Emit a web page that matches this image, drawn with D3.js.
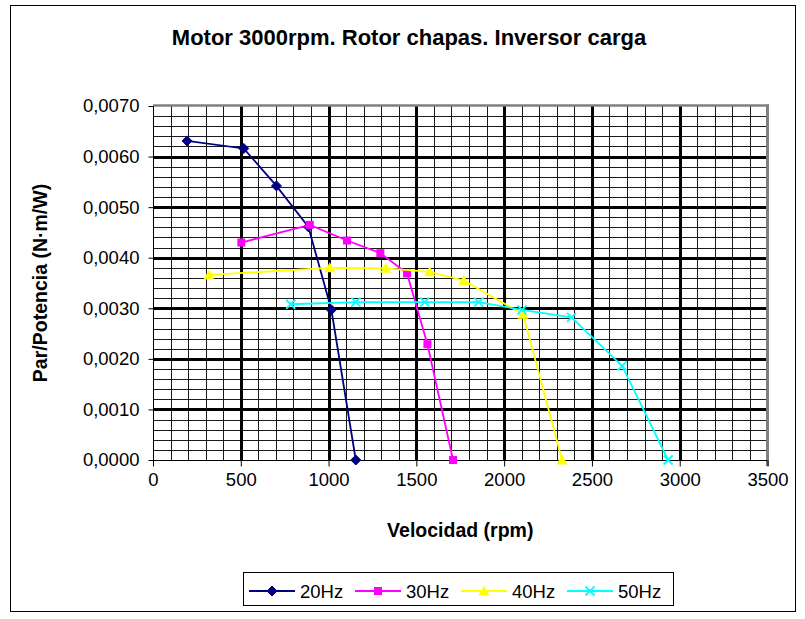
<!DOCTYPE html>
<html>
<head>
<meta charset="utf-8">
<script src="https://cdn.jsdelivr.net/npm/d3@7"></script>
<style>
  html, body { margin: 0; padding: 0; background: #fff; }
  svg { display: block; }
  text { font-family: "Liberation Sans", Arial, sans-serif; fill: #000; }
</style>
</head>
<body>
<svg id="chart" width="805" height="619"></svg>
<script>
// Velocidad (rpm) and Par/Potencia (N·m/W) per supply frequency
const vel20 = [194, 517, 703, 885, 1016, 1155];
const par20 = [0.00631, 0.00616, 0.00542, 0.00461, 0.00297, 0.0];

const vel30 = [503, 893, 1105, 1295, 1447, 1563, 1709];
const par30 = [0.00430, 0.00465, 0.00434, 0.00409, 0.00369, 0.00229, 0.0];

const vel40 = [319, 1007, 1326, 1576, 1770, 2108, 2330];
const par40 = [0.00366, 0.00380, 0.00379, 0.00372, 0.00355, 0.00288, 0.0];

const vel50 = [784, 1155, 1548, 1855, 2102, 2384, 2672, 2934];
const par50 = [0.00308, 0.00312, 0.00312, 0.00312, 0.00297, 0.00282, 0.00186, 0.0];

const seriesNames = ["20Hz", "30Hz", "40Hz", "50Hz"];
const seriesColors = ["#000080", "#FF00FF", "#FFFF00", "#00FFFF"];
const seriesMarkers = ["diamond", "square", "triangle", "cross"];

const xTicks = [0, 500, 1000, 1500, 2000, 2500, 3000, 3500];
const yTicks = [0, 0.001, 0.002, 0.003, 0.004, 0.005, 0.006, 0.007];

const titleText = "Motor 3000rpm. Rotor chapas. Inversor carga";
const xTitle = "Velocidad (rpm)";
const yTitle = "Par/Potencia (N·m/W)";

const svg = d3.select("#chart");

// Outer chart frame
svg.append("rect")
  .attr("x", 10.5).attr("y", 5.5)
  .attr("width", 785).attr("height", 606)
  .attr("fill", "#fff").attr("stroke", "#000").attr("stroke-width", 1);

const plot = { left: 153, right: 767.5, top: 106, bottom: 460 };

const x = d3.scaleLinear().domain([0, 3500]).range([plot.left, plot.right]);
const y = d3.scaleLinear().domain([0, 0.007]).range([plot.bottom, plot.top]);

const comma = d3.formatLocale({ decimal: ",", thousands: ".", grouping: [3], currency: ["", "€"] });
const yFmt = comma.format(".4f");

// Minor grid (every 100 rpm and 0,0002)
const g = svg.append("g");
const xMinor = d3.range(100, 3500, 100).filter(v => v % 500 !== 0);
const yMinor = d3.range(1, 35).map(i => i * 0.0002).filter((v, i) => (i + 1) % 5 !== 0);

g.selectAll(".vminor").data(xMinor).join("line")
  .attr("x1", d => Math.round(x(d)) + 0.5).attr("x2", d => Math.round(x(d)) + 0.5)
  .attr("y1", plot.top).attr("y2", plot.bottom)
  .attr("stroke", "#1a1a1a").attr("stroke-width", 1);

g.selectAll(".hminor").data(yMinor).join("line")
  .attr("x1", plot.left).attr("x2", plot.right)
  .attr("y1", d => Math.round(y(d)) + 0.5).attr("y2", d => Math.round(y(d)) + 0.5)
  .attr("stroke", "#1a1a1a").attr("stroke-width", 1);

// Major grid
g.selectAll(".vmajor").data(xTicks.slice(1, -1)).join("line")
  .attr("x1", d => Math.round(x(d)) + 0.5).attr("x2", d => Math.round(x(d)) + 0.5)
  .attr("y1", plot.top).attr("y2", plot.bottom)
  .attr("stroke", "#000").attr("stroke-width", 3);

g.selectAll(".hmajor").data(yTicks.slice(1, -1)).join("line")
  .attr("x1", plot.left).attr("x2", plot.right)
  .attr("y1", d => Math.round(y(d)) + 0.5).attr("y2", d => Math.round(y(d)) + 0.5)
  .attr("stroke", "#000").attr("stroke-width", 3);

// Plot-area border (grey top and right edges)
svg.append("line")
  .attr("x1", plot.left).attr("x2", plot.right + 1.5)
  .attr("y1", plot.top - 0.5).attr("y2", plot.top - 0.5)
  .attr("stroke", "#808080").attr("stroke-width", 2.5);
svg.append("line")
  .attr("x1", plot.right).attr("x2", plot.right)
  .attr("y1", plot.top - 1.5).attr("y2", plot.bottom + 6)
  .attr("stroke", "#808080").attr("stroke-width", 3);

// Axes
const xAxis = d3.axisBottom(x).tickValues(xTicks).tickSize(6).tickPadding(6).tickFormat(d3.format("d"));
const yAxis = d3.axisLeft(y).tickValues(yTicks).tickSize(5).tickPadding(9).tickFormat(yFmt);

const gx = svg.append("g").attr("transform", `translate(0,${plot.bottom + 0.5})`).call(xAxis);
const gy = svg.append("g").attr("transform", `translate(${plot.left + 0.5},0)`).call(yAxis);
[gx, gy].forEach(a => {
  a.select(".domain").attr("stroke", "#000").attr("stroke-width", 1);
  a.selectAll(".tick line").attr("stroke", "#000");
  a.selectAll(".tick text")
    .attr("font-family", "'Liberation Sans', Arial, sans-serif")
    .attr("font-size", 18.5).attr("fill", "#000");
});
gx.select(".domain").attr("d", `M${plot.left},0H${plot.right}`);
gy.select(".domain").attr("d", `M0,${plot.bottom}V${plot.top}`);

// Series
const series = [
  { vel: vel20, par: par20 },
  { vel: vel30, par: par30 },
  { vel: vel40, par: par40 },
  { vel: vel50, par: par50 }
];

function marker(sel, type, color) {
  if (type === "diamond") {
    sel.append("path").attr("d", "M0,-5L5,0L0,5L-5,0Z").attr("fill", color).attr("stroke", color);
  } else if (type === "square") {
    sel.append("rect").attr("x", -4).attr("y", -4).attr("width", 8).attr("height", 8).attr("fill", color);
  } else if (type === "triangle") {
    sel.append("path").attr("d", "M0,-5.5L5.5,4.5L-5.5,4.5Z").attr("fill", color);
  } else {
    sel.append("path").attr("d", "M-4.5,-4.5L4.5,4.5M-4.5,4.5L4.5,-4.5")
      .attr("stroke", color).attr("stroke-width", 1.8).attr("fill", "none");
  }
}

const line = d3.line().x(d => x(d[0])).y(d => y(d[1]));

series.forEach((s, i) => {
  const pts = s.vel.map((v, k) => [v, s.par[k]]);
  const sg = svg.append("g");
  sg.append("path").datum(pts).attr("d", line)
    .attr("fill", "none").attr("stroke", seriesColors[i]).attr("stroke-width", 1.8);
  sg.selectAll("g.pt").data(pts).join("g")
    .attr("transform", d => `translate(${x(d[0])},${y(d[1])})`)
    .each(function () { marker(d3.select(this), seriesMarkers[i], seriesColors[i]); });
});

// Titles
svg.append("text").attr("x", 409).attr("y", 45).attr("text-anchor", "middle")
  .attr("font-size", 22).attr("font-weight", "bold").text(titleText);

svg.append("text").attr("x", (plot.left + plot.right) / 2).attr("y", 537).attr("text-anchor", "middle")
  .attr("font-size", 19.5).attr("font-weight", "bold").text(xTitle);

svg.append("text")
  .attr("transform", `translate(47,${(plot.top + plot.bottom) / 2}) rotate(-90)`)
  .attr("text-anchor", "middle")
  .attr("font-size", 19.5).attr("font-weight", "bold").text(yTitle);

// Legend
const legend = svg.append("g");
legend.append("rect").attr("x", 243.5).attr("y", 572.5).attr("width", 430).attr("height", 33)
  .attr("fill", "#fff").attr("stroke", "#000").attr("stroke-width", 1);

seriesNames.forEach((name, i) => {
  const tx = 300 + i * 106;
  const li = legend.append("g");
  li.append("line").attr("x1", tx - 51).attr("x2", tx - 5).attr("y1", 591).attr("y2", 591)
    .attr("stroke", seriesColors[i]).attr("stroke-width", 1.8);
  const m = li.append("g").attr("transform", `translate(${tx - 28},591)`);
  marker(m, seriesMarkers[i], seriesColors[i]);
  li.append("text").attr("x", tx).attr("y", 597.5).attr("font-size", 18.5).text(name);
});
</script>
</body>
</html>
